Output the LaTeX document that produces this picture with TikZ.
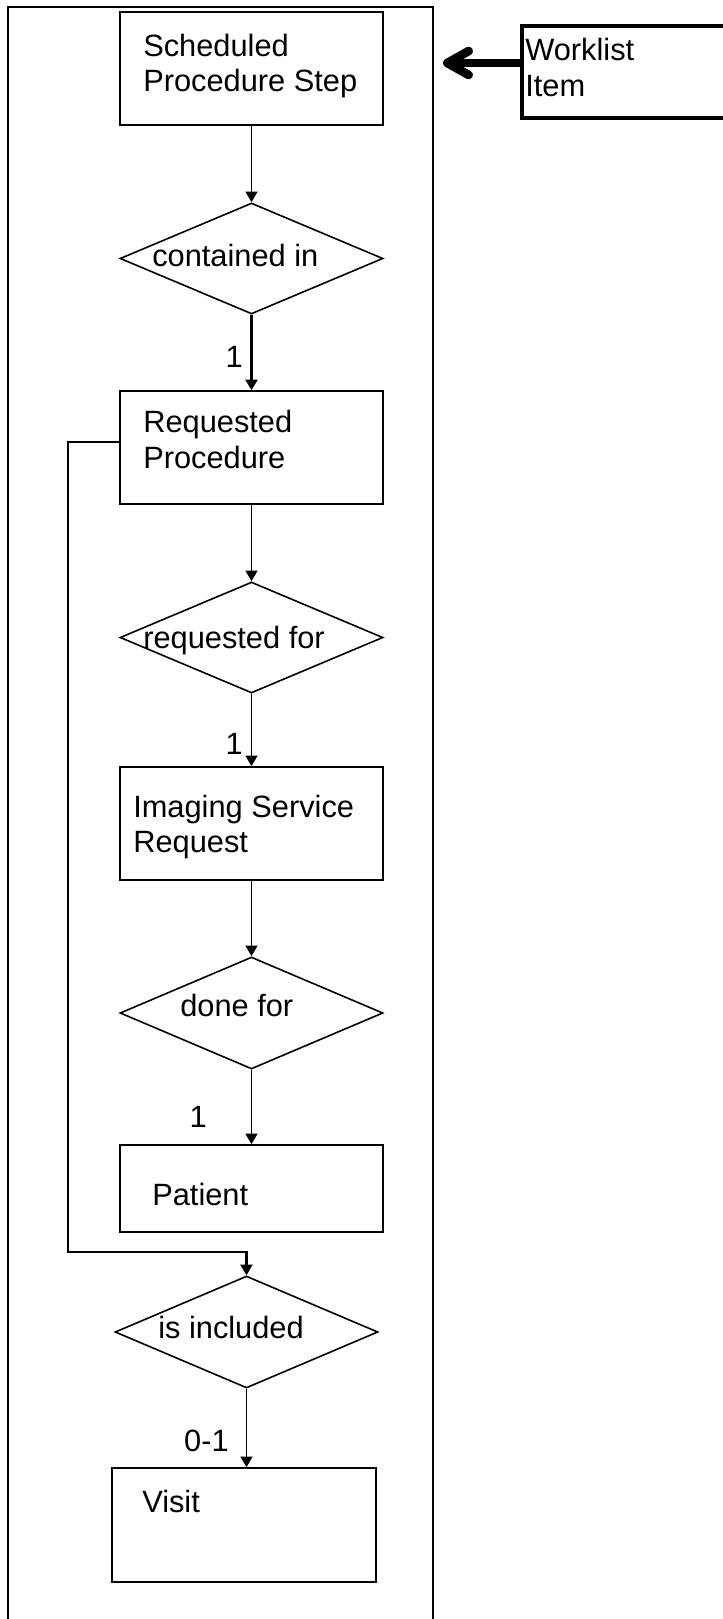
\documentclass[tikz,border=0pt]{standalone}
\usepackage{fontspec}
\setmainfont{Liberation Sans}
\usetikzlibrary{shapes.geometric,arrows.meta}

\begin{document}
\begin{tikzpicture}[x=0.75pt,y=-0.75pt,
        entidad/.style={draw=black, line width=1.2pt, rectangle, minimum width=263*0.75pt, minimum height=113*0.75pt, inner sep=0pt},
        relacion/.style={draw=black, line width=1.2pt, diamond, minimum width=263*0.75pt, minimum height=111*0.75pt, inner sep=0pt},
        texto/.style={anchor=base west, inner sep=0pt, align=left, font=\fontsize{23.1pt}{26.3pt}\selectfont},
        card/.style={anchor=base, inner sep=0pt, font=\fontsize{23.1pt}{26.3pt}\selectfont},
        flecha/.style={line width=1.2pt, -{Triangle[length=8pt,width=9pt]}}]
    \useasboundingbox (0,0) rectangle (722,1619);

    % Marco
    \draw[black, line width=1.2pt] (8,7) rectangle (433,1640);

    % Entidades
    \node[entidad] (sps) at (251.5,68.5) {};
    \node[entidad] (rp) at (251.5,447.5) {};
    \node[entidad] (isr) at (251.5,823.5) {};
    \node[entidad, minimum height=87*0.75pt] (pat) at (251.5,1188.5) {};
    \node[entidad, minimum width=264*0.75pt, minimum height=114*0.75pt] (visit) at (244,1525) {};
    \node[draw=black, line width=3.2pt, rectangle, minimum width=218*0.75pt, minimum height=92*0.75pt] (wl) at (631,72) {};

    % Relaciones
    \node[relacion] (contained) at (251.5,258.5) {};
    \node[relacion] (reqfor) at (251.5,637.5) {};
    \node[relacion, minimum height=112*0.75pt] (donefor) at (251.5,1013) {};
    \node[relacion, minimum height=112*0.75pt] (isinc) at (246.5,1332) {};

    % Textos
    \node[texto] (sps-t1) at (143,57) {Scheduled};
    \node[texto] (sps-t2) at (143,92) {Procedure Step};
    \node[texto] (rp-t1) at (143,432) {Requested};
    \node[texto] (rp-t2) at (143,468) {Procedure};
    \node[texto] (isr-t1) at (133,817) {Imaging Service};
    \node[texto] (isr-t2) at (133,852) {Request};
    \node[texto] (pat-t) at (152,1205) {Patient};
    \node[texto] (visit-t) at (142,1512) {Visit};
    \node[texto] (wl-t1) at (525,61) {Worklist};
    \node[texto] (wl-t2) at (525,97) {Item};
    \node[texto] (contained-t) at (152,267) {contained in};
    \node[texto] (reqfor-t) at (143,648) {requested for};
    \node[texto] (donefor-t) at (180,1016) {done for};
    \node[texto] (isinc-t) at (158,1338) {is included};

    % Flechas
    \draw[flecha] (sps.south) -- (contained.north);
    \draw[flecha, line width=2pt] (contained.south) -- (rp.north) node[card, pos=0.7, xshift=-13pt] (c1) {1};
    \draw[flecha] (rp.south) -- (reqfor.north);
    \draw[flecha] (reqfor.south) -- (isr.north) node[card, pos=0.84, xshift=-13pt] (c2) {1};
    \draw[flecha] (isr.south) -- (donefor.north);
    \draw[flecha] (donefor.south) -- (pat.north) node[card, pos=0.78, xshift=-40pt] (c3) {1};
    \draw[flecha] (isinc.south) -- (isinc.south |- visit.north) node[card, pos=0.8, xshift=-30pt] (c4) {0-1};

    % Ruta de Requested Procedure a is included
    \coordinate (codo) at (68,1252);
    \draw[flecha, line width=1.6pt] ([yshift=4pt]rp.west) -| (codo) -| (isinc.north);

    % Flecha gruesa
    \coordinate (tope) at (443,63);
    \draw[line width=6.5pt, line cap=round, -{Straight Barb[length=16pt,width=18pt,round]}] (tope -| wl.west) -- (tope);
\end{tikzpicture}
\end{document}
